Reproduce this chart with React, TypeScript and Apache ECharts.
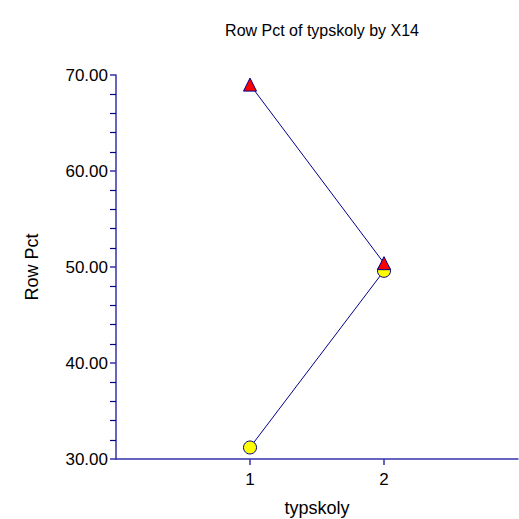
import React, { useEffect, useRef } from "react";
import * as echarts from "echarts";

const titleText = "Row Pct of typskoly by X14";
const xName = "typskoly";
const yName = "Row Pct";
const xValues = [1, 2];
const seriesTriangle = [69.0, 50.4];
const seriesCircle = [31.2, 49.6];
const xTicks = [1, 2];

const FONT = "'Liberation Sans', Arial, sans-serif";
const NAVY = "#00008B";
const AXIS = "#3333A8";

export default function App() {
  const ref = useRef<HTMLDivElement>(null);
  useEffect(() => {
    if (!ref.current) return;
    const chart = echarts.init(ref.current, undefined, { renderer: "svg" });
    chart.setOption({
      animation: false,
      backgroundColor: "#ffffff",
      title: {
        text: titleText,
        left: 317,
        textAlign: "center",
        top: 17,
        textStyle: { fontFamily: FONT, fontSize: 16, fontWeight: "normal", color: "#000" },
      },
      grid: { left: 116, right: 1, top: 75, bottom: 60, containLabel: false, outerBoundsMode: "none" },
      xAxis: {
        type: "value",
        min: 0,
        max: 3,
        interval: 1,
        name: xName,
        nameLocation: "middle",
        nameGap: 40,
        nameTextStyle: { fontFamily: FONT, fontSize: 18, color: "#000" },
        axisLine: { show: true, onZero: false, lineStyle: { color: AXIS, width: 1.5 } },
        axisTick: { show: true, customValues: xTicks, length: 6, inside: false, lineStyle: { color: AXIS, width: 1.5 } },
        axisLabel: { customValues: xTicks, fontFamily: FONT, fontSize: 17, color: "#000", margin: 12 },
        splitLine: { show: false },
      },
      yAxis: {
        type: "value",
        min: 30,
        max: 70,
        interval: 10,
        name: yName,
        nameLocation: "middle",
        nameGap: 75,
        nameRotate: 90,
        nameTextStyle: { fontFamily: FONT, fontSize: 18, color: "#000" },
        axisLine: { show: true, onZero: false, lineStyle: { color: AXIS, width: 1.5 } },
        axisTick: { show: true, length: 6, inside: false, lineStyle: { color: AXIS, width: 1.5 } },
        minorTick: { show: true, splitNumber: 5, length: 6, lineStyle: { color: NAVY, width: 1.2 } },
        axisLabel: {
          fontFamily: FONT,
          fontSize: 17,
          color: "#000",
          margin: 8,
          formatter: (v: number) => v.toFixed(2),
        },
        splitLine: { show: false },
        minorSplitLine: { show: false },
      },
      series: [
        {
          type: "line",
          data: xValues.map((x, i) => [x, seriesCircle[i]]),
          symbol: "circle",
          symbolSize: 13,
          lineStyle: { color: NAVY, width: 1 },
          itemStyle: { color: "#FFFF00", borderColor: NAVY, borderWidth: 1 },
          z: 2,
        },
        {
          type: "line",
          data: xValues.map((x, i) => [x, seriesTriangle[i]]),
          symbol: "triangle",
          symbolSize: 13,
          lineStyle: { color: NAVY, width: 1 },
          itemStyle: { color: "#FF0000", borderColor: NAVY, borderWidth: 1 },
          z: 3,
        },
      ],
    });
    return () => chart.dispose();
  }, []);
  return <div ref={ref} style={{ width: 519, height: 519, position: "absolute", left: 0, top: 0 }} />;
}
